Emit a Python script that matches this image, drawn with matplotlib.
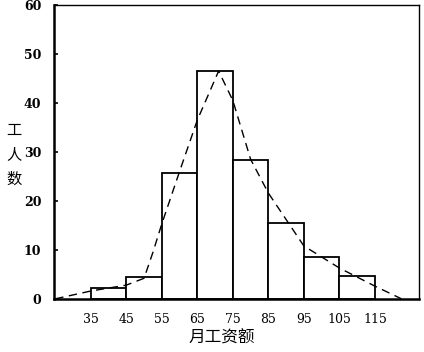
import matplotlib
matplotlib.use("Agg")
import matplotlib.pyplot as plt
import numpy as np

plt.rcParams['font.family'] = ['Noto Sans CJK SC', 'DejaVu Sans']

# 工资分组 (组界) 与各组工人数
bin_edges = [35, 45, 55, 65, 75, 85, 95, 105, 115]
workers = [2.3, 4.5, 25.7, 46.5, 28.3, 15.4, 8.5, 4.6]

# 虚线 (频数曲线)
curve_x = [25, 35, 45, 50, 52.5, 55, 60, 65, 71, 75, 80, 85, 95, 105, 115, 122.5]
curve_y = [0, 1.6, 2.8, 4.2, 9.5, 15.3, 26, 36.5, 46.5, 40.5, 28.5, 21.6, 10.8, 6.3, 2.6, 0]

x_ticks = [35, 45, 55, 65, 75, 85, 95, 105, 115]
y_ticks = [0, 10, 20, 30, 40, 50, 60]

fig = plt.figure(figsize=(4.24, 3.52), dpi=100)
ax = fig.add_axes([0.127, 0.151, 0.861, 0.835])

widths = np.diff(bin_edges)
ax.bar(bin_edges[:-1], workers, width=widths, align='edge',
       facecolor='white', edgecolor='black', linewidth=1.3)
ax.plot(curve_x, curve_y, color='black', linewidth=1.0, linestyle=(0, (6, 4)))

ax.set_xlim(24.6, 127.4)
ax.set_ylim(0, 60)
ax.set_xticks(x_ticks)
ax.set_yticks(y_ticks)
ax.set_xticklabels([str(v) for v in x_ticks], family='DejaVu Serif', fontsize=9)
ax.set_yticklabels([str(v) for v in y_ticks], family='DejaVu Serif', fontsize=9, fontweight='bold')
ax.tick_params(axis='x', length=0, pad=10)
ax.tick_params(axis='y', direction='in', length=3, width=1.2, pad=9)
for side in ['left', 'bottom']:
    ax.spines[side].set_linewidth(1.8)
for side in ['top', 'right']:
    ax.spines[side].set_linewidth(1.0)

fig.text(0.524, 0.04, '月工资额', fontsize=12, ha='center', va='center')
fig.text(0.033, 0.56, '工\n人\n数', fontsize=11, ha='center', va='center', linespacing=1.6)

fig.savefig('out.png', dpi=100)
